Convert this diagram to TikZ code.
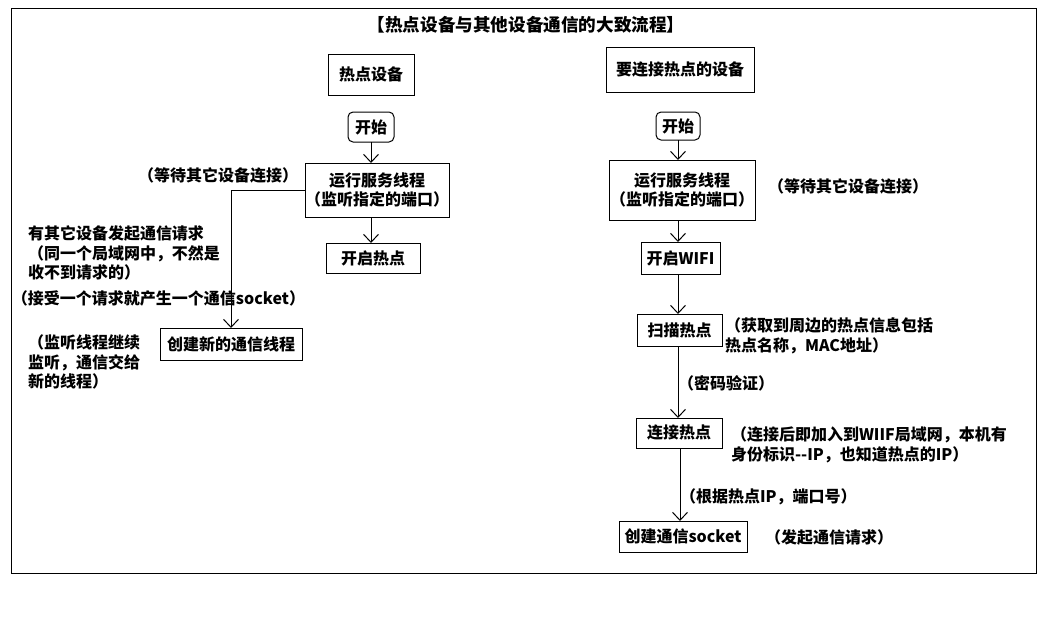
\documentclass[tikz,border=0pt]{standalone}
\usepackage{fontspec}
\setmainfont{Noto Sans CJK SC}
\usetikzlibrary{arrows.meta}
\begin{document}
\begin{tikzpicture}[x=1pt,y=-1pt,line width=1pt,
  every node/.style={inner sep=0pt,outer sep=0pt},
  box/.style={draw,font=\fontsize{16}{19}\selectfont\bfseries,align=center},
  rbox/.style={box,rounded corners=5pt},
  lbl/.style={font=\fontsize{16}{19.5}\selectfont\bfseries,align=left},
  arr/.style={-{Straight Barb[length=8pt,width=15pt,line width=1pt]}}]
\useasboundingbox (0,0) rectangle (1050,627);
\draw (11,8) rectangle (1036,573);
\node[font=\fontsize{17.6}{20}\selectfont\bfseries] (title) at (526,25) {【热点设备与其他设备通信的大致流程】};
% left column
\node[box,minimum width=86,minimum height=41] (hotdev) at (371,74.5) {热点设备};
\node[rbox,minimum width=46,minimum height=30] (start1) at (371,127) {开始};
\node[box,minimum width=144,minimum height=54] (run1) at (377,190) {运行服务线程\\（监听指定的端口）};
\node[box,minimum width=94,minimum height=30] (hot1) at (373,258) {开启热点};
\node[box,minimum width=142,minimum height=32] (newthr) at (231,344) {创建新的通信线程};
\draw[arr] (start1.south) -- (start1.south |- run1.north);
\draw[arr] (start1.south |- run1.south) -- (start1.south |- hot1.north);
\draw[arr] (run1.west) -| (newthr.north);
\node[lbl,anchor=west] (wait1) at (138,175) {（等待其它设备连接）};
\node[lbl,anchor=north west] (req) at (28,226) {有其它设备发起通信请求\\（同一个局域网中，不然是\\收不到请求的）};
\node[lbl,anchor=west] (accept) at (12,298) {（接受一个请求就产生一个通信socket）};
\node[lbl,anchor=north west] (cont) at (28,335) {（监听线程继续\\监听，通信交给\\新的线程）};
% right column
\node[box,minimum width=148,minimum height=45] (conndev) at (680,69.5) {要连接热点的设备};
\node[rbox,minimum width=44,minimum height=28] (start2) at (678,126) {开始};
\node[box,minimum width=146,minimum height=60] (run2) at (682,190) {运行服务线程\\（监听指定的端口）};
\node[box,minimum width=79,minimum height=32] (wifi) at (680.5,258) {开启WIFI};
\node[box,minimum width=85,minimum height=32] (scan) at (679.5,330) {扫描热点};
\node[box,minimum width=86,minimum height=30] (conn) at (679,433) {连接热点};
\node[box,minimum width=128,minimum height=31] (sock) at (683,536.5) {创建通信socket};
\draw[arr] (start2.south) -- (start2.south |- run2.north);
\draw[arr] (start2.south |- run2.south) -- (start2.south |- wifi.north);
\draw[arr] (start2.south |- wifi.south) -- (start2.south |- scan.north);
\draw[arr] (start2.south |- scan.south) -- (start2.south |- conn.north);
\draw[arr] (conn.south -| sock.north) ++(-3,0) coordinate (c1) -- (c1 |- sock.north);
\node[lbl,anchor=west] (wait2) at (768,186) {（等待其它设备连接）};
\node[lbl,anchor=north west] (scaninfo) at (725,318) {（获取到周边的热点信息包括\\热点名称，MAC地址）};
\node[lbl,anchor=west] (pwd) at (678,383) {（密码验证）};
\node[lbl,anchor=north west] (conninfo) at (731,427) {（连接后即加入到WIIF局域网，本机有\\身份标识{-}{-}IP，也知道热点的IP）};
\node[lbl,anchor=west] (ip) at (680,497) {（根据热点IP，端口号）};
\node[lbl,anchor=west] (send) at (765,537) {（发起通信请求）};
\end{tikzpicture}
\end{document}
